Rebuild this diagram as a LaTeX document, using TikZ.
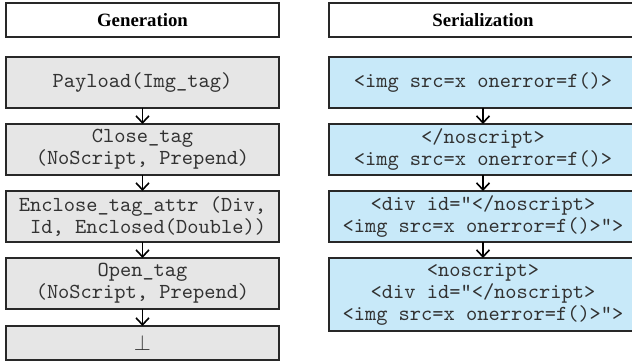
\documentclass[tikz,border=0pt]{standalone}
\usepackage{fontspec}
\setmainfont{Liberation Serif}
\usetikzlibrary{arrows.meta,positioning}
\definecolor{stepgray}{RGB}{230,230,230}
\definecolor{stepblue}{RGB}{200,233,249}
\definecolor{edgegray}{RGB}{40,40,40}
\definecolor{codegray}{RGB}{50,50,50}

\begin{document}
\begin{tikzpicture}[x=0.5pt, y=-0.5pt,
    every node/.style={inner sep=0pt, outer sep=0pt, align=center},
    head/.style={rectangle, draw=edgegray, line width=0.6pt, fill=white, minimum height=17pt,
      font=\fontsize{9.4}{11}\selectfont\bfseries},
    gen/.style={rectangle, draw=edgegray, line width=0.6pt, fill=stepgray, minimum width=136.5pt,
      minimum height=25.5pt, text=codegray, font=\fontsize{10.7}{11.2}\selectfont\ttfamily},
    ser/.style={gen, fill=stepblue, minimum width=154pt},
    flow/.style={-{Straight Barb[length=3.5pt,width=6.5pt]}, line width=0.8pt}]
  \useasboundingbox (0,0) rectangle (632,363);

  % generation side
  \node[head, minimum width=136.5pt] (genhead) at (142.5,20) {Generation};
  \node[gen] (payload) at (142.5,82.5) {Payload(Img\_tag)};
  \node[gen] (close) at (142.5,149.5) {Close\_tag\\(NoScript, Prepend)};
  \node[gen] (enclose) at (142.5,216.5) {Enclose\_tag\_attr (Div,\\\hphantom{I}Id, Enclosed(Double))};
  \node[gen] (open) at (142.5,283.5) {Open\_tag\\(NoScript, Prepend)};
  \node[gen, minimum height=17pt] (bottom) at (142.5,343) {$\perp$};

  \draw[flow] (payload) -- (close);
  \draw[flow] (close) -- (enclose);
  \draw[flow] (enclose) -- (open);
  \draw[flow] (open) -- (bottom);

  % serialization side
  \node[head, minimum width=154pt] (serhead) at (483,20) {Serialization};
  \node[ser] (img) at (483,82.5) {<img src=x onerror=f()>};
  \node[ser] (noscr) at (483,149.5) {</noscript>\\<img src=x onerror=f()>};
  \node[ser] (div) at (483,216.5) {<div id="</noscript>\\<img src=x onerror=f()>">};
  \node[ser, minimum height=36.5pt] (full) at (483,294.5) {<noscript>\\<div id="</noscript>\\<img src=x onerror=f()>">};

  \draw[flow] (img) -- (noscr);
  \draw[flow] (noscr) -- (div);
  \draw[flow] (div) -- (full);
\end{tikzpicture}
\end{document}
